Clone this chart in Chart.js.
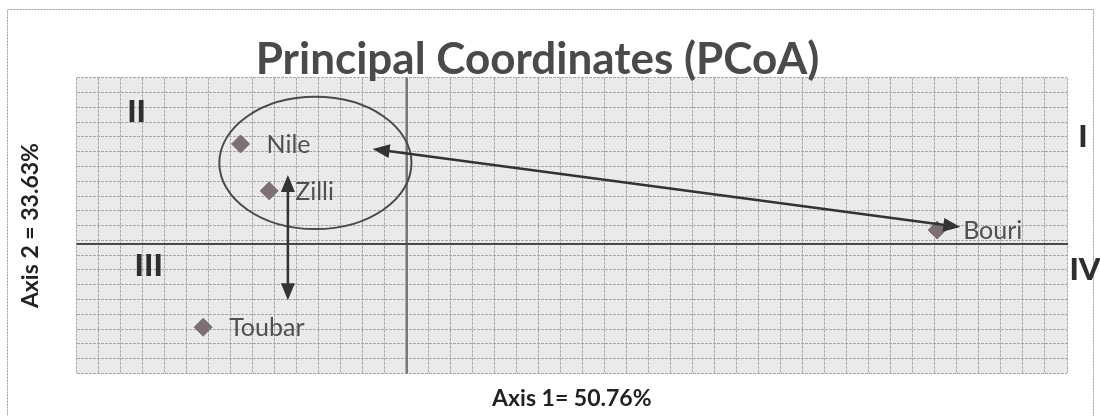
<!DOCTYPE html>
<html>
<head>
<meta charset="utf-8">
<script src="https://cdn.jsdelivr.net/npm/chart.js@4"></script>
<style>
  html, body { margin: 0; padding: 0; background: #fff; }
  #wrap { width: 1100px; height: 416px; }
</style>
</head>
<body>
<div id="wrap"><canvas id="pcoa" width="1100" height="416"></canvas></div>
<script>
// ---------- Data ----------
const sites = ['Nile', 'Zilli', 'Toubar', 'Bouri'];
const axis1 = [-0.151, -0.125, -0.185, 0.482];
const axis2 = [0.271, 0.144, -0.225, 0.038];

const xRange = [-0.3, 0.6];
const yRange = [-0.35, 0.45];
const xStep = 0.02;
const yStep = 0.04;

// annotations, in data units
const quadNames = ['I', 'II', 'III', 'IV'];
const quadX = [0.6145, -0.2455, -0.2345, 0.6164];
const quadY = [0.29, 0.358, -0.06, -0.0707];

const groupCenter = [-0.083, 0.2195];
const groupRadius = [0.0873, 0.179];

// arrows: x1, y1, x2, y2 (double headed)
const arrows = [
  [-0.031, 0.2575, 0.503, 0.046],
  [-0.108, 0.187, -0.108, -0.152]
];

const FONT = 'Lato, "Open Sans", sans-serif';

// ---------- Helpers ----------
function arrowHead(ctx, x, y, ang) {
  const len = 17, half = 7;
  ctx.beginPath();
  ctx.moveTo(x, y);
  ctx.lineTo(x - len * Math.cos(ang) + half * Math.sin(ang), y - len * Math.sin(ang) - half * Math.cos(ang));
  ctx.lineTo(x - len * Math.cos(ang) - half * Math.sin(ang), y - len * Math.sin(ang) + half * Math.cos(ang));
  ctx.closePath();
  ctx.fill();
}

const pcoaPlugin = {
  id: 'pcoaExtras',
  beforeDraw(chart) {
    const { ctx, chartArea: a } = chart;
    ctx.save();
    // outer frame
    ctx.strokeStyle = '#9a9a9a';
    ctx.lineWidth = 1;
    ctx.setLineDash([2, 1]);
    ctx.strokeRect(7.5, 9.5, 1086, 420);
    ctx.setLineDash([]);
    // plot background
    ctx.fillStyle = '#eaeaea';
    ctx.fillRect(a.left, a.top, a.right - a.left, a.bottom - a.top);
    ctx.restore();
  },
  afterDatasetsDraw(chart) {
    const { ctx, chartArea: a, scales: { x, y } } = chart;
    ctx.save();

    // axes through the origin
    ctx.strokeStyle = '#777';
    ctx.lineWidth = 2.5;
    const x0 = x.getPixelForValue(0);
    ctx.beginPath(); ctx.moveTo(x0, a.top); ctx.lineTo(x0, a.bottom); ctx.stroke();
    ctx.strokeStyle = '#484848';
    ctx.lineWidth = 2;
    const y0 = y.getPixelForValue(0);
    ctx.beginPath(); ctx.moveTo(a.left, y0); ctx.lineTo(a.right + 1, y0); ctx.stroke();

    // group ellipse
    const cx = x.getPixelForValue(groupCenter[0]);
    const cy = y.getPixelForValue(groupCenter[1]);
    const rx = Math.abs(x.getPixelForValue(groupCenter[0] + groupRadius[0]) - cx);
    const ry = Math.abs(y.getPixelForValue(groupCenter[1] + groupRadius[1]) - cy);
    ctx.strokeStyle = '#4a4a4a';
    ctx.lineWidth = 2;
    ctx.beginPath(); ctx.ellipse(cx, cy, rx, ry, 0, 0, Math.PI * 2); ctx.stroke();

    // arrows
    ctx.strokeStyle = '#333';
    ctx.fillStyle = '#333';
    ctx.lineWidth = 2.5;
    arrows.forEach(([ax1, ay1, ax2, ay2]) => {
      const p1 = [x.getPixelForValue(ax1), y.getPixelForValue(ay1)];
      const p2 = [x.getPixelForValue(ax2), y.getPixelForValue(ay2)];
      const ang = Math.atan2(p2[1] - p1[1], p2[0] - p1[0]);
      ctx.beginPath();
      ctx.moveTo(p1[0] + 12 * Math.cos(ang), p1[1] + 12 * Math.sin(ang));
      ctx.lineTo(p2[0] - 12 * Math.cos(ang), p2[1] - 12 * Math.sin(ang));
      ctx.stroke();
      arrowHead(ctx, p2[0], p2[1], ang);
      arrowHead(ctx, p1[0], p1[1], ang + Math.PI);
    });

    // point labels
    const meta = chart.getDatasetMeta(0);
    ctx.fillStyle = '#505050';
    ctx.font = '25px ' + FONT;
    ctx.textBaseline = 'middle';
    ctx.textAlign = 'left';
    meta.data.forEach((pt, i) => {
      ctx.fillText(sites[i], pt.x + 26, pt.y + 1);
    });

    // quadrant numerals
    ctx.fillStyle = '#2e2e2e';
    ctx.font = '900 31px ' + FONT;
    ctx.textAlign = 'center';
    quadNames.forEach((q, i) => {
      ctx.fillText(q, x.getPixelForValue(quadX[i]), y.getPixelForValue(quadY[i]));
    });
    ctx.restore();
  }
};

// ---------- Chart ----------
new Chart(document.getElementById('pcoa'), {
  type: 'scatter',
  data: {
    datasets: [{
      label: 'PCoA',
      data: sites.map((s, i) => ({ x: axis1[i], y: axis2[i] })),
      pointStyle: 'rectRot',
      pointRadius: 9,
      pointHoverRadius: 9,
      backgroundColor: '#7e6f75',
      borderColor: '#7e6f75',
      borderWidth: 1
    }]
  },
  options: {
    responsive: false,
    animation: false,
    events: [],
    layout: { padding: { top: 36, left: 8, right: 33, bottom: 2 } },
    plugins: {
      legend: { display: false },
      tooltip: { enabled: false },
      title: {
        display: true,
        text: 'Principal Coordinates (PCoA)',
        color: '#4a4a4a',
        font: { family: FONT, size: 44, weight: 'bold', lineHeight: 0.95 },
        padding: { top: 3, bottom: -3 }
      }
    },
    scales: {
      x: {
        type: 'linear',
        min: xRange[0], max: xRange[1],
        ticks: { display: false, stepSize: xStep },
        grid: { color: '#a8a8a8', lineWidth: 1, drawTicks: false },
        border: { display: false, dash: [3, 1] },
        title: {
          display: true, text: 'Axis 1= 50.76%', color: '#222',
          font: { family: FONT, size: 23, weight: 'bold', lineHeight: 1.2 },
          padding: { top: 11, bottom: 2 }
        }
      },
      y: {
        type: 'linear',
        min: yRange[0], max: yRange[1],
        ticks: { display: false, stepSize: yStep },
        grid: { color: '#a8a8a8', lineWidth: 1, drawTicks: false },
        border: { display: false, dash: [3, 1] },
        title: {
          display: true, text: 'Axis 2 = 33.63%', color: '#222',
          font: { family: FONT, size: 23, weight: 'bold', lineHeight: 1.2 },
          padding: { top: 9, bottom: 32 }
        }
      }
    }
  },
  plugins: [pcoaPlugin]
});
</script>
</body>
</html>
